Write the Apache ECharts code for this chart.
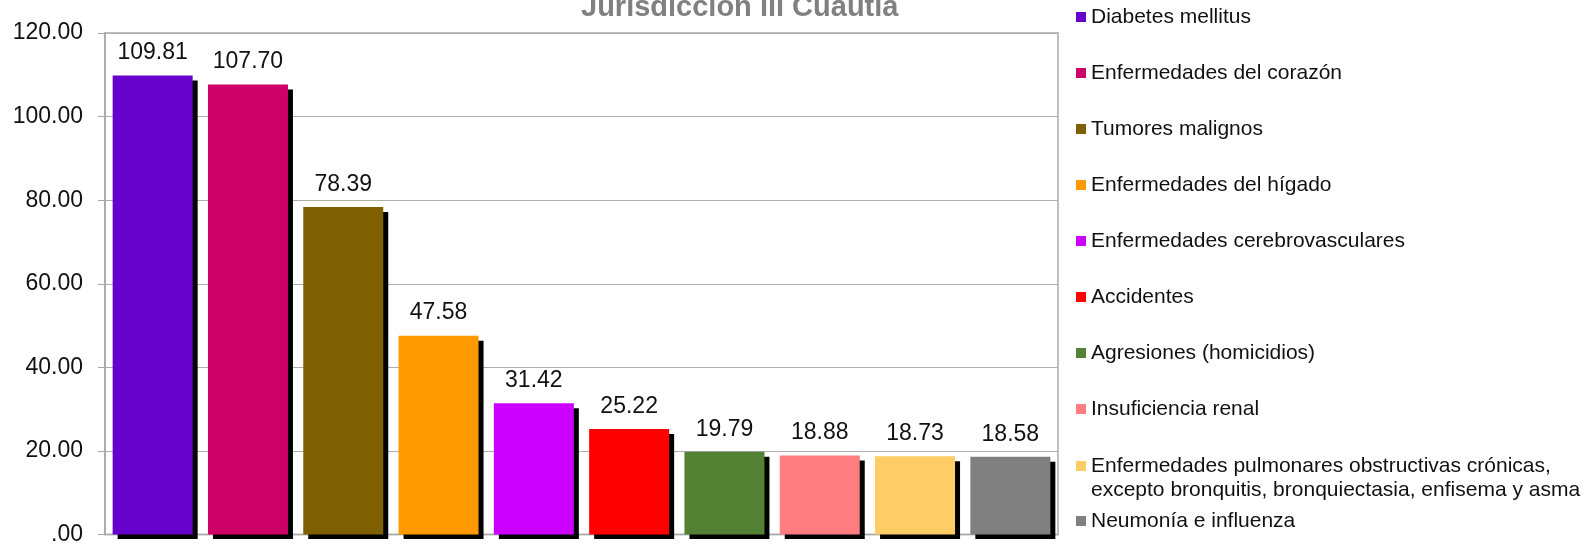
<!DOCTYPE html>
<html>
<head>
<meta charset="utf-8">
<title>Jurisdicción III Cuautla</title>
<script src="https://cdn.jsdelivr.net/npm/echarts@6/dist/echarts.min.js"></script>
<style>
html,body{margin:0;padding:0;background:#fff;}
#main{width:1593px;height:546px;}
</style>
</head>
<body>
<div id="main"></div>
<script>
// causas de muerte, tasa
var causas = [
  'Diabetes mellitus',
  'Enfermedades del corazón',
  'Tumores malignos',
  'Enfermedades del hígado',
  'Enfermedades cerebrovasculares',
  'Accidentes',
  'Agresiones (homicidios)',
  'Insuficiencia renal',
  'Enfermedades pulmonares obstructivas crónicas, excepto bronquitis, bronquiectasia, enfisema y asma',
  'Neumonía e influenza'
];
var tasas = [109.81, 107.70, 78.39, 47.58, 31.42, 25.22, 19.79, 18.88, 18.73, 18.58];
var colores = ['#6600CC', '#CC0066', '#7F6000', '#FF9900', '#CC00FF',
               '#FF0000', '#548235', '#FF7C80', '#FFCC66', '#808080'];
var yTicks = [0, 20, 40, 60, 80, 100, 120];

var fuente = "'Liberation Sans', Arial, sans-serif";
var chart = echarts.init(document.getElementById('main'));

// una serie por causa, apiladas para que cada barra quede en su categoria
var series = causas.map(function (nombre, i) {
  return {
    name: nombre,
    type: 'bar',
    stack: 'total',
    barWidth: 80,
    color: colores[i],
    data: tasas.map(function (v, j) { return j === i ? v : '-'; }),
    itemStyle: {
      color: colores[i],
      shadowColor: '#000',
      shadowBlur: 0,
      shadowOffsetX: 5,
      shadowOffsetY: 5
    },
    label: {
      show: true,
      position: 'top',
      distance: 11,
      color: '#111',
      fontSize: 23,
      fontFamily: fuente,
      formatter: function (p) { return p.value.toFixed(2); }
    },
    emphasis: { disabled: true }
  };
});

var legendBase = {
  orient: 'vertical',
  left: 1076,
  padding: 0,
  icon: 'rect',
  itemWidth: 10,
  itemHeight: 10,
  selectedMode: false,
  itemStyle: { shadowColor: 'rgba(0,0,0,0)', shadowOffsetX: 0, shadowOffsetY: 0 },
  textStyle: { color: '#111', fontSize: 21, fontFamily: fuente, lineHeight: 24 }
};

var option = {
  animation: false,
  textStyle: { fontFamily: fuente },
  title: {
    text: 'Jurisdicción III Cuautla',
    left: 581,
    top: -7,
    padding: 0,
    textStyle: { color: '#808080', fontSize: 29, fontWeight: 'bold', fontFamily: fuente }
  },
  legend: [
    Object.assign({}, legendBase, { top: 5, itemGap: 32, data: causas.slice(0, 8) }),
    Object.assign({}, legendBase, {
      top: 430,
      data: [causas[8]],
      // linea vacia arriba para que el icono quede junto a la primera linea
      formatter: function (n) { return '\n' + n.replace(', excepto', ',\nexcepto'); }
    }),
    Object.assign({}, legendBase, { top: 509, data: [causas[9]] })
  ],
  grid: {
    left: 105,
    right: 535,
    top: 33,
    bottom: 9,
    show: true,
    borderColor: '#c0c0c0',
    borderWidth: 2,
    containLabel: false
  },
  xAxis: {
    type: 'category',
    data: causas,
    axisLabel: { show: false },
    axisTick: { show: false },
    axisLine: { lineStyle: { color: '#a6a6a6', width: 1 } }
  },
  yAxis: {
    type: 'value',
    min: yTicks[0],
    max: yTicks[yTicks.length - 1],
    interval: 20,
    axisLine: { show: true, lineStyle: { color: '#a6a6a6', width: 1.5 } },
    axisTick: { show: true, length: 7, lineStyle: { color: '#a6a6a6' } },
    splitLine: { lineStyle: { color: '#adadad', width: 1 } },
    axisLabel: {
      margin: 22,
      color: '#111',
      fontSize: 23,
      fontFamily: fuente,
      formatter: function (v) { return v === 0 ? '.00' : v.toFixed(2); }
    }
  },
  graphic: [{
    type: 'rect',
    z: 100,
    shape: { x: 100, y: 539, width: 970, height: 10 },
    style: { fill: '#fff' }
  }],
  series: series
};

chart.setOption(option);
</script>
</body>
</html>
